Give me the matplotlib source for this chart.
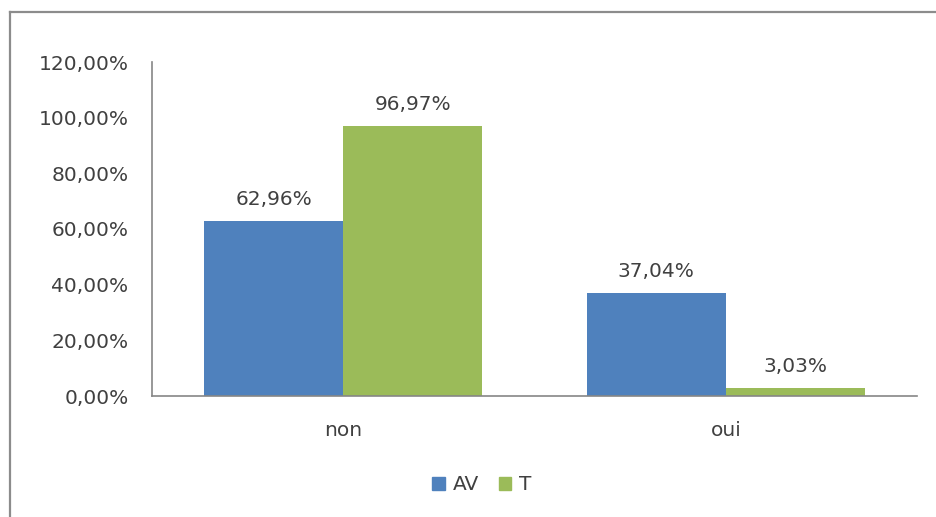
import matplotlib
matplotlib.use("Agg")
import matplotlib.pyplot as plt
from matplotlib.lines import Line2D
from matplotlib.patches import Patch
import numpy as np

categories = ["non", "oui"]
series_names = ["AV", "T"]
av_values = [62.96, 37.04]
t_values = [96.97, 3.03]
y_ticks = [0, 20, 40, 60, 80, 100, 120]

colors = ["#4F81BD", "#9BBB59"]
text_color = "#404040"
axis_color = "#868686"
FS = 14.5

plt.rcParams["font.family"] = ["DejaVu Sans"]

W, H = 936, 517
fig = plt.figure(figsize=(W / 100, H / 100), dpi=100)
fig.patch.set_facecolor("white")

# chart frame (left and top edges)
fig.add_artist(Line2D([10 / W, 10 / W], [0, 1 - 12 / H], transform=fig.transFigure,
                      color="#8c8c8c", lw=1.6))
fig.add_artist(Line2D([10 / W, 1], [1 - 12 / H, 1 - 12 / H], transform=fig.transFigure,
                      color="#8c8c8c", lw=1.6))

ax = fig.add_axes([152 / W, 1 - 396 / H, (917 - 152) / W, (396 - 62) / H])

x = np.arange(len(categories))
w = 0.3635

def fmt(v):
    return f"{v:.2f}".replace(".", ",") + "%"

for i, (vals, name) in enumerate(zip([av_values, t_values], series_names)):
    pos = x + (i - 0.5) * w
    ax.bar(pos, vals, width=w, color=colors[i], label=name, zorder=2)
    for p, v in zip(pos, vals):
        ax.annotate(fmt(v), (p, v), xytext=(0, 11.5), textcoords="offset points",
                    ha="center", va="baseline", fontsize=FS, color=text_color)

ax.set_xlim(-0.5, 1.5)
ax.set_ylim(0, 120)
ax.set_yticks(y_ticks)
ax.set_yticklabels([fmt(v) for v in y_ticks], fontsize=FS, color=text_color)
ax.set_xticks(x)
ax.set_xticklabels(categories, fontsize=FS, color=text_color)
ax.tick_params(axis="both", length=0)
ax.tick_params(axis="y", pad=17)
ax.tick_params(axis="x", pad=18)

for s in ["top", "right"]:
    ax.spines[s].set_visible(False)
for s in ["left", "bottom"]:
    ax.spines[s].set_color(axis_color)
    ax.spines[s].set_linewidth(1.2)

handles = [Patch(color=c, label=n) for c, n in zip(colors, series_names)]
fig.legend(handles=handles, loc="center", bbox_to_anchor=(482 / W, 1 - 485 / H),
           ncol=2, frameon=False, fontsize=FS, handlelength=0.6, handleheight=0.6,
           handletextpad=0.4, columnspacing=1.0, labelcolor=text_color,
           borderpad=0, borderaxespad=0)

fig.savefig("out.png", dpi=100, facecolor="white")
